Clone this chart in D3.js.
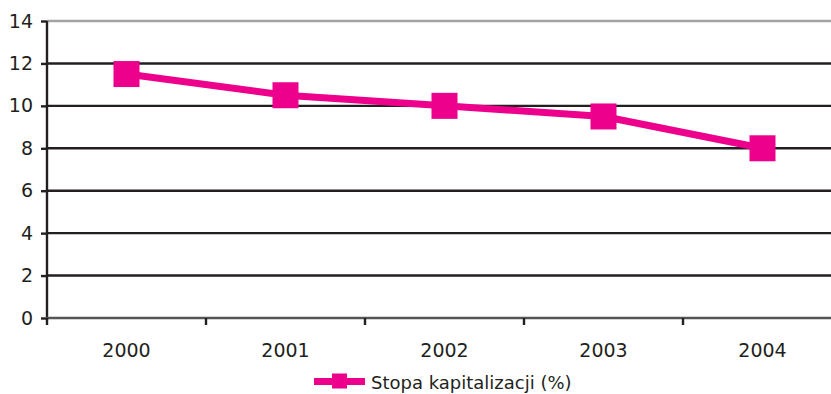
<!DOCTYPE html>
<html>
<head>
<meta charset="utf-8">
<script src="https://cdn.jsdelivr.net/npm/d3@7"></script>
<style>
  html, body { margin: 0; padding: 0; background: #fff; }
  svg { display: block; }
  text { font-family: "DejaVu Sans", sans-serif; fill: #231f20; }
</style>
</head>
<body>
<svg id="chart" width="831" height="394"></svg>
<script>
// Capitalization rate by year
const years = ["2000", "2001", "2002", "2003", "2004"];
const rates = [11.5, 10.5, 10, 9.5, 8];
const yTicks = [0, 2, 4, 6, 8, 10, 12, 14];
const seriesName = "Stopa kapitalizacji (%)";

const pink = "#ec008c";
const ink = "#231f20";

const svg = d3.select("#chart");
const plot = { left: 47, right: 842, top: 21, bottom: 318 };

const x = d3.scaleBand().domain(years).range([plot.left, plot.right]);
const y = d3.scaleLinear().domain([0, 14]).range([plot.bottom, plot.top]);

// horizontal gridlines (top one lighter)
svg.append("g").selectAll("line")
  .data(yTicks.filter(d => d > 0))
  .join("line")
  .attr("x1", plot.left).attr("x2", 831)
  .attr("y1", d => y(d)).attr("y2", d => y(d))
  .attr("stroke", d => d === 14 ? "#a3a3a3" : ink)
  .attr("stroke-width", 2.4);

// y axis
const yAxis = svg.append("g")
  .attr("transform", `translate(${plot.left},0)`)
  .call(d3.axisLeft(y).tickValues(yTicks).tickSize(6).tickPadding(8));
yAxis.select(".domain").attr("stroke", ink).attr("stroke-width", 2.4)
  .attr("d", `M0,${plot.top}V${plot.bottom + 2}`);
yAxis.selectAll(".tick line").attr("stroke", ink).attr("stroke-width", 2.4);
yAxis.selectAll(".tick text")
  .attr("font-size", 19).attr("fill", ink)
  .style("font-family", '"DejaVu Sans", sans-serif');

// x axis with ticks at category boundaries
const xAxisG = svg.append("g").attr("transform", `translate(0,${plot.bottom})`);
xAxisG.append("line")
  .attr("x1", plot.left - 1).attr("x2", 831)
  .attr("y1", 0).attr("y2", 0)
  .attr("stroke", "#555").attr("stroke-width", 2.4);
const boundaries = years.map(d => x(d));
xAxisG.selectAll("line.tk")
  .data(boundaries)
  .join("line")
  .attr("class", "tk")
  .attr("x1", d => d).attr("x2", d => d)
  .attr("y1", 0).attr("y2", 7)
  .attr("stroke", ink).attr("stroke-width", 2.4);
xAxisG.selectAll("text")
  .data(years)
  .join("text")
  .attr("x", d => x(d) + x.bandwidth() / 2)
  .attr("y", 38.5)
  .attr("text-anchor", "middle")
  .attr("font-size", 19)
  .text(d => d);

// series line
const pts = years.map((d, i) => [x(d) + x.bandwidth() / 2, y(rates[i])]);
svg.append("path")
  .attr("d", d3.line()(pts))
  .attr("fill", "none")
  .attr("stroke", pink)
  .attr("stroke-width", 7)
  .attr("stroke-linejoin", "round");

// square markers
const m = 26;
svg.append("g").selectAll("rect")
  .data(pts)
  .join("rect")
  .attr("x", d => d[0] - m / 2)
  .attr("y", d => d[1] - m / 2)
  .attr("width", m).attr("height", m)
  .attr("fill", pink);

// legend
const lg = svg.append("g");
lg.append("line")
  .attr("x1", 314).attr("x2", 365)
  .attr("y1", 381.5).attr("y2", 381.5)
  .attr("stroke", pink).attr("stroke-width", 7);
lg.append("rect")
  .attr("x", 332).attr("y", 373.5)
  .attr("width", 15).attr("height", 15)
  .attr("fill", pink);
lg.append("text")
  .attr("x", 371).attr("y", 389)
  .attr("font-size", 18)
  .text(seriesName);
</script>
</body>
</html>
